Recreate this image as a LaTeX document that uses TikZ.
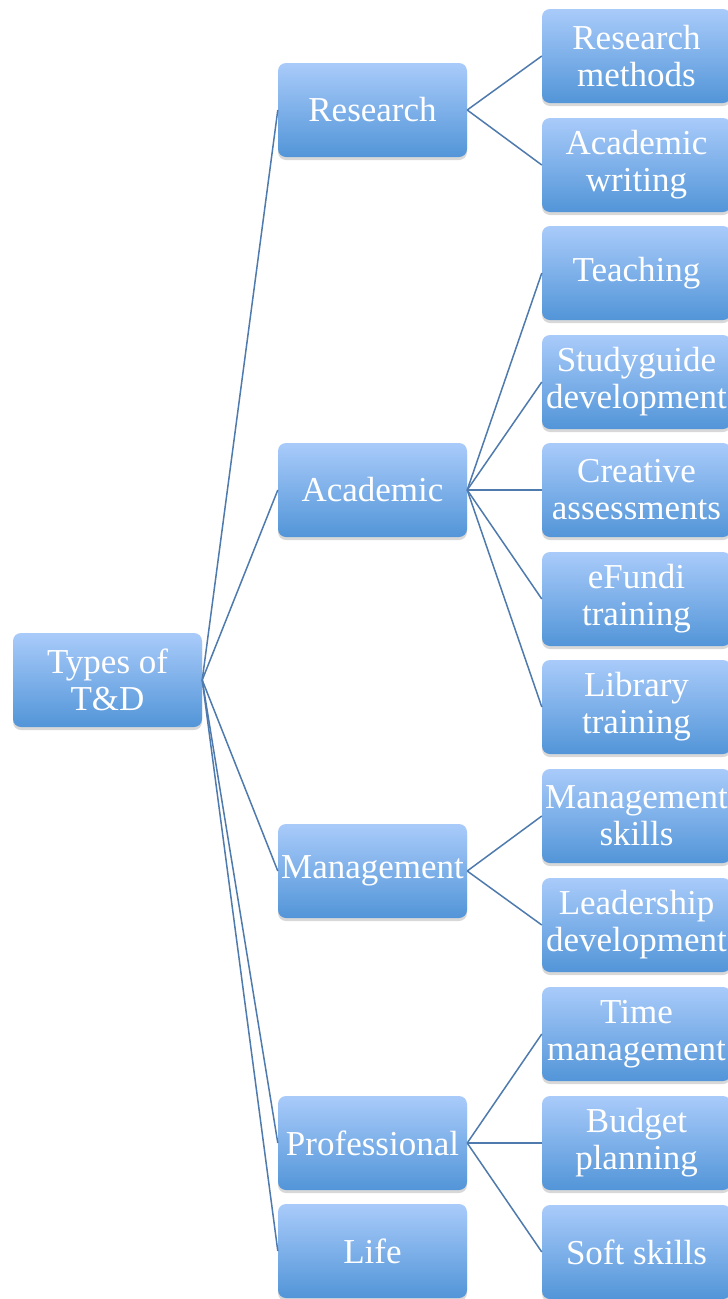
\documentclass[tikz,border=0pt]{standalone}
\usepackage{fontspec}
\setmainfont{Liberation Serif}
\usetikzlibrary{shadows}
\definecolor{boxtop}{HTML}{A9CBFA}
\definecolor{boxbot}{HTML}{5295D8}
\definecolor{linkc}{HTML}{4F7AAD}
\tikzset{
  tdbox/.style={rounded corners=8pt, top color=boxtop, bottom color=boxbot, draw=none,
    minimum width=189pt, minimum height=94pt, inner sep=0pt, align=center, text=white,
    font=\fontsize{35}{37}\selectfont,
    drop shadow={opacity=0.3, shadow xshift=0pt, shadow yshift=-3pt}},
  link/.style={draw=linkc, line width=1.5pt}
}
\begin{document}
\begin{tikzpicture}[x=1pt,y=-1pt]
\useasboundingbox (0,0) rectangle (728,1299);
\clip (0,0) rectangle (728,1299);
\fill[white] (0,0) rectangle (728,1299);
% root
\node[tdbox] (root) at (107.5,680) {Types of\\T\&D};
% level 1
\node[tdbox] (res) at (372.5,110) {Research};
\node[tdbox] (aca) at (372.5,490) {Academic};
\node[tdbox] (man) at (372.5,871) {Management};
\node[tdbox] (pro) at (372.5,1143) {Professional};
\node[tdbox] (life) at (372.5,1251) {Life};
% level 2
\node[tdbox] (rm) at (636.5,56) {Research\\methods};
\node[tdbox] (aw) at (636.5,165) {Academic\\writing};
\node[tdbox] (te) at (636.5,273) {Teaching};
\node[tdbox] (sg) at (636.5,382) {Studyguide\\development};
\node[tdbox] (ca) at (636.5,490) {Creative\\assessments};
\node[tdbox] (ef) at (636.5,599) {eFundi\\training};
\node[tdbox] (lt) at (636.5,707) {Library\\training};
\node[tdbox] (ms) at (636.5,816) {Management\\skills};
\node[tdbox] (ld) at (636.5,925) {Leadership\\development};
\node[tdbox] (tm) at (636.5,1034) {Time\\management};
\node[tdbox] (bp) at (636.5,1143) {Budget\\planning};
\node[tdbox] (ss) at (636.5,1252) {Soft skills};
% connectors
\foreach \c in {res,aca,man,pro,life} \draw[link] (root.east) -- (\c.west);
\foreach \c in {rm,aw} \draw[link] (res.east) -- (\c.west);
\foreach \c in {te,sg,ca,ef,lt} \draw[link] (aca.east) -- (\c.west);
\foreach \c in {ms,ld} \draw[link] (man.east) -- (\c.west);
\foreach \c in {tm,bp,ss} \draw[link] (pro.east) -- (\c.west);
\end{tikzpicture}
\end{document}
